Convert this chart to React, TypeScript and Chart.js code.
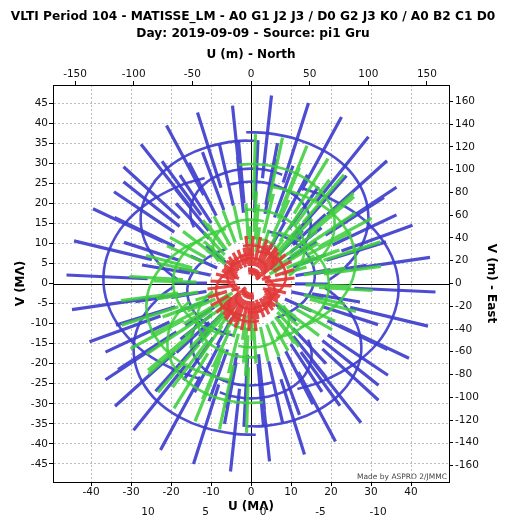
import React, { useEffect, useRef } from 'react';
import { Chart, registerables } from 'chart.js';
Chart.register(...registerables);

// ---- text & ticks ----
const TITLE_LINES = [
  'VLTI Period 104 - MATISSE_LM - A0 G1 J2 J3 / D0 G2 J3 K0 / A0 B2 C1 D0',
  'Day: 2019-09-09 - Source: pi1 Gru',
];
const U_TICKS = [-40, -30, -20, -10, 0, 10, 20, 30, 40];
const V_TICKS = [-45, -40, -35, -30, -25, -20, -15, -10, -5, 0, 5, 10, 15, 20, 25, 30, 35, 40, 45];
const U_M_TICKS = [-150, -100, -50, 0, 50, 100, 150];
const V_M_TICKS = [-160, -140, -120, -100, -80, -60, -40, -20, 0, 20, 40, 60, 80, 100, 120, 140, 160];
const EXTRA_U_LABELS = [10, 5, 0, -5, -10];
const CREDIT = 'Made by ASPRO 2/JMMC';

// ---- uv tracks (MLambda), sampled at these hour angles (h) ----
const HOUR_ANGLES = [-4.7, -4, -3, -2, -1, 0, 1, 2, 3, 4, 4.7];
const OBS_FIRST = 1; // observations (bars) at HA -4 .. +4
const OBS_LAST = 9;
const LAMBDA_REF = 3.5; // microns, track wavelength
const LAMBDA_MIN = 2.8;
const LAMBDA_MAX = 5.0;

// Large: A0 G1 J2 J3
const LARGE_BASELINES = ['A0-G1', 'A0-J2', 'A0-J3', 'G1-J2', 'G1-J3', 'J2-J3'];
const LARGE_U = [
  [-5.3, -2.7, 1.2, 5.0, 8.4, 11.3, 13.5, 14.7, 14.9, 14.1, 12.9],
  [13.0, 19.1, 26.6, 32.3, 35.8, 36.9, 35.4, 31.6, 25.5, 17.8, 11.6],
  [-1.2, 4.1, 11.5, 18.1, 23.5, 27.2, 29.1, 29.1, 27.0, 23.1, 19.4],
  [18.4, 21.8, 25.4, 27.3, 27.4, 25.5, 22.0, 16.9, 10.7, 3.7, -1.3],
  [4.1, 6.8, 10.3, 13.1, 15.0, 15.9, 15.7, 14.4, 12.1, 9.0, 6.5],
  [-14.3, -15.0, -15.1, -14.2, -12.4, -9.7, -6.3, -2.5, 1.4, 5.3, 7.8],
];
const LARGE_V = [
  [24.7, 25.2, 25.4, 24.8, 23.5, 21.7, 19.3, 16.6, 13.8, 11.1, 9.3],
  [23.7, 21.5, 17.2, 11.6, 5.2, -1.7, -8.5, -14.9, -20.3, -24.4, -26.3],
  [37.7, 37.5, 36.0, 33.2, 29.3, 24.5, 19.2, 13.7, 8.3, 3.6, 0.8],
  [-1.0, -3.7, -8.2, -13.2, -18.3, -23.3, -27.8, -31.5, -34.1, -35.5, -35.6],
  [13.0, 12.3, 10.6, 8.4, 5.8, 2.8, -0.1, -3.0, -5.5, -7.5, -8.5],
  [14.0, 16.0, 18.8, 21.6, 24.1, 26.2, 27.7, 28.5, 28.6, 28.0, 27.1],
];

// Medium: D0 G2 J3 K0
const MEDIUM_BASELINES = ['D0-G2', 'D0-J3', 'D0-K0', 'G2-J3', 'G2-K0', 'J3-K0'];
const MEDIUM_U = [
  [-1.6, -0.2, 1.7, 3.6, 5.2, 6.4, 7.2, 7.5, 7.3, 6.6, 5.9],
  [-3.0, 0.9, 6.3, 11.2, 15.4, 18.6, 20.5, 20.9, 20.0, 17.7, 15.4],
  [5.2, 9.7, 15.7, 20.6, 24.1, 25.9, 26.0, 24.3, 21.0, 16.2, 12.2],
  [-1.4, 1.1, 4.5, 7.6, 10.3, 12.2, 13.2, 13.4, 12.7, 11.1, 9.5],
  [6.7, 10.0, 14.0, 17.0, 18.9, 19.5, 18.8, 16.8, 13.6, 9.6, 6.3],
  [8.1, 8.9, 9.4, 9.4, 8.7, 7.4, 5.6, 3.4, 1.0, -1.5, -3.2],
];
const MEDIUM_V = [
  [11.3, 11.4, 11.2, 10.7, 9.9, 8.8, 7.5, 6.1, 4.7, 3.4, 2.6],
  [29.6, 29.8, 29.1, 27.5, 24.9, 21.7, 18.0, 14.1, 10.2, 6.7, 4.5],
  [24.1, 23.1, 20.7, 17.3, 13.0, 8.3, 3.4, -1.4, -5.6, -9.2, -11.0],
  [18.4, 18.4, 17.9, 16.7, 15.0, 12.9, 10.5, 8.0, 5.5, 3.3, 1.9],
  [12.8, 11.7, 9.5, 6.5, 3.1, -0.5, -4.1, -7.5, -10.4, -12.6, -13.6],
  [-5.5, -6.7, -8.4, -10.2, -11.9, -13.4, -14.6, -15.5, -15.9, -15.8, -15.5],
];

// Small: A0 B2 C1 D0
const SMALL_BASELINES = ['A0-B2', 'A0-C1', 'A0-D0', 'B2-C1', 'B2-D0', 'C1-D0'];
const SMALL_U = [
  [3.7, 4.3, 4.8, 5.0, 4.9, 4.4, 3.6, 2.6, 1.4, 0.1, -0.8],
  [3.1, 3.9, 4.9, 5.6, 5.9, 5.8, 5.3, 4.4, 3.3, 1.9, 0.8],
  [1.7, 3.3, 5.2, 6.9, 8.0, 8.6, 8.7, 8.1, 7.0, 5.4, 4.1],
  [-0.7, -0.3, 0.1, 0.6, 1.1, 1.4, 1.7, 1.8, 1.9, 1.8, 1.6],
  [-2.0, -1.0, 0.4, 1.9, 3.2, 4.3, 5.0, 5.5, 5.6, 5.3, 4.8],
  [-1.3, -0.7, 0.3, 1.2, 2.1, 2.8, 3.4, 3.7, 3.7, 3.5, 3.2],
];
const SMALL_V = [
  [-1.2, -1.8, -2.6, -3.5, -4.5, -5.3, -6.1, -6.7, -7.1, -7.2, -7.2],
  [1.9, 1.4, 0.6, -0.4, -1.5, -2.6, -3.7, -4.6, -5.3, -5.8, -6.0],
  [8.0, 7.7, 6.9, 5.8, 4.4, 2.8, 1.1, -0.5, -1.9, -3.1, -3.7],
  [3.1, 3.2, 3.2, 3.1, 2.9, 2.7, 2.4, 2.1, 1.7, 1.4, 1.2],
  [9.3, 9.5, 9.5, 9.3, 8.8, 8.1, 7.2, 6.2, 5.2, 4.2, 3.5],
  [6.2, 6.3, 6.3, 6.2, 5.9, 5.4, 4.8, 4.2, 3.5, 2.8, 2.3],
];

const BLUE = 'rgba(62,62,206,0.92)';
const GREEN = 'rgba(62,206,62,0.88)';
const RED = 'rgba(226,56,56,0.92)';
const FONT = 'DejaVu Sans';

function configSets(names: string[], us: number[][], vs: number[][], color: string) {
  const arcs: any[] = [];
  const bars: any[] = [];
  const fIn = LAMBDA_REF / LAMBDA_MAX;
  const fOut = LAMBDA_REF / LAMBDA_MIN;
  us.forEach((u, k) => {
    const v = vs[k];
    for (const s of [1, -1]) {
      arcs.push({
        label: names[k] + (s > 0 ? '' : ' (sym)'),
        data: u.map((x, i) => ({ x: s * x, y: s * v[i] })),
        showLine: true, borderColor: color, borderWidth: 2.6, tension: 0.4,
        pointRadius: 0, pointHoverRadius: 0, fill: false,
      });
      for (let i = OBS_FIRST; i <= OBS_LAST; i++) {
        bars.push({ x: s * u[i] * fIn, y: s * v[i] * fIn }, { x: s * u[i] * fOut, y: s * v[i] * fOut }, { x: null, y: null });
      }
    }
  });
  const barSet = {
    label: 'bars', data: bars, showLine: true, spanGaps: false, tension: 0,
    borderColor: color, borderWidth: 3.2, borderCapStyle: 'butt',
    pointRadius: 0, pointHoverRadius: 0, fill: false,
  };
  return [barSet, ...arcs];
}

const extras = {
  id: 'extras',
  beforeDatasetsDraw(chart: any) {
    const { ctx, chartArea: a, scales } = chart;
    const x0 = Math.round(scales.x.getPixelForValue(0)) + 0.5;
    const y0 = Math.round(scales.y.getPixelForValue(0)) + 0.5;
    ctx.save();
    ctx.strokeStyle = '#000';
    ctx.lineWidth = 1;
    ctx.beginPath();
    ctx.moveTo(x0, a.top); ctx.lineTo(x0, a.bottom);
    ctx.moveTo(a.left, y0); ctx.lineTo(a.right, y0);
    ctx.stroke();
    ctx.restore();
  },
  afterDraw(chart: any) {
    const { ctx, chartArea: a, scales } = chart;
    ctx.save();
    ctx.font = `7.5px "${FONT}"`;
    ctx.fillStyle = '#444';
    ctx.textAlign = 'right';
    ctx.textBaseline = 'alphabetic';
    ctx.fillText(CREDIT, a.right - 2, a.bottom - 3);
    ctx.font = `10.5px "${FONT}"`;
    ctx.fillStyle = '#111';
    ctx.textAlign = 'center';
    ctx.textBaseline = 'middle';
    EXTRA_U_LABELS.forEach((m) => {
      ctx.fillText(String(m), scales.x.getPixelForValue(3 - 2.875 * m), chart.height - 5);
    });
    ctx.restore();
  },
};

const tickFont = { family: FONT, size: 10.5 };
const titleFont = { family: FONT, size: 12, weight: 'bold' as const };

export default function App() {
  const ref = useRef<HTMLCanvasElement>(null);
  useEffect(() => {
    const datasets = [
      ...configSets(SMALL_BASELINES, SMALL_U, SMALL_V, RED),
      ...configSets(MEDIUM_BASELINES, MEDIUM_U, MEDIUM_V, GREEN),
      ...configSets(LARGE_BASELINES, LARGE_U, LARGE_V, BLUE),
    ];
    const gridColor = (c: any) => (c.tick && c.tick.value === 0 ? 'rgba(0,0,0,0)' : '#bdbdbd');
    const chart = new Chart(ref.current!, {
      type: 'scatter',
      data: { datasets },
      options: {
        animation: false,
        responsive: false,
        events: [],
        layout: { padding: 0 },
        plugins: {
          legend: { display: false },
          tooltip: { enabled: false },
          title: {
            display: true, text: TITLE_LINES, color: '#000',
            font: { family: FONT, size: 12.2, weight: 'bold', lineHeight: '17px' },
            padding: { top: 8, bottom: 0 },
          },
        },
        scales: {
          x: {
            type: 'linear', position: 'bottom', min: -49.5, max: 49.5,
            afterBuildTicks: (s: any) => { s.ticks = U_TICKS.map((value) => ({ value })); },
            afterFit: (s: any) => { s.height = 35; },
            ticks: { font: tickFont, color: '#111', padding: 0, maxRotation: 0, callback: (v: any) => String(v) },
            grid: { color: gridColor, tickColor: '#000', tickLength: 4, lineWidth: 1 },
            border: { color: '#000', width: 1, dash: [2, 2] },
            title: { display: true, text: 'U (MΛ)', font: titleFont, color: '#000', padding: { top: 0, bottom: 3 } },
          },
          y: {
            type: 'linear', position: 'left', min: -49.5, max: 49.5,
            afterBuildTicks: (s: any) => { s.ticks = V_TICKS.map((value) => ({ value })); },
            afterFit: (s: any) => { s.width = 53; },
            ticks: { font: tickFont, color: '#111', padding: 1, callback: (v: any) => String(v) },
            grid: { color: gridColor, tickColor: '#000', tickLength: 4, lineWidth: 1 },
            border: { color: '#000', width: 1, dash: [2, 2] },
            title: { display: true, text: 'V (MΛ)', font: titleFont, color: '#000', padding: { top: 14, bottom: 0 } },
          },
          x2: {
            type: 'linear', position: 'top', min: -168.8, max: 168.8,
            afterBuildTicks: (s: any) => { s.ticks = U_M_TICKS.map((value) => ({ value })); },
            afterFit: (s: any) => { s.height = 43; },
            ticks: { font: tickFont, color: '#111', padding: 0, maxRotation: 0, callback: (v: any) => String(v) },
            grid: { drawOnChartArea: false, tickColor: '#000', tickLength: 4 },
            border: { color: '#000', width: 1 },
            title: { display: true, text: 'U (m) - North', font: titleFont, color: '#000', padding: { top: 6, bottom: 0 } },
          },
          y2: {
            type: 'linear', position: 'right', min: -174.5, max: 174.5,
            afterBuildTicks: (s: any) => { s.ticks = V_M_TICKS.map((value) => ({ value })); },
            afterFit: (s: any) => { s.width = 57; },
            ticks: { font: tickFont, color: '#111', padding: 2, callback: (v: any) => String(v) },
            grid: { drawOnChartArea: false, tickColor: '#000', tickLength: 4 },
            border: { color: '#000', width: 1 },
            title: { display: true, text: 'V (m) - East', font: titleFont, color: '#000', padding: { top: 8, bottom: 0 } },
          },
        },
      } as any,
      plugins: [extras],
    });
    return () => chart.destroy();
  }, []);
  return (
    <canvas
      ref={ref}
      width={506}
      height={517}
      style={{ position: 'fixed', left: 0, top: 0, display: 'block' }}
    />
  );
}
